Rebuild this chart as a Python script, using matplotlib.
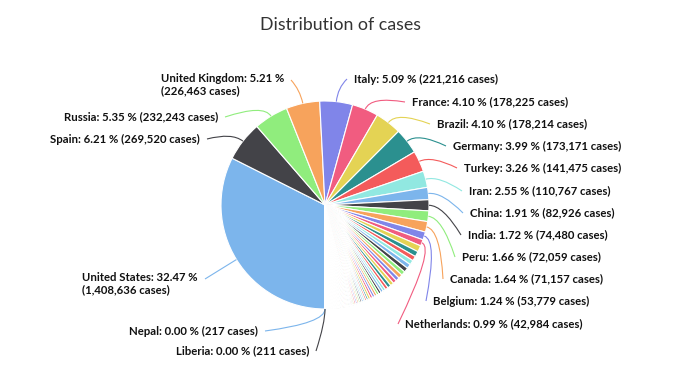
import numpy as np
import matplotlib
matplotlib.use("Agg")
import matplotlib.pyplot as plt
from matplotlib.path import Path
from matplotlib.patches import PathPatch

# cases per country, sorted as in the chart (largest first)
countries = [
    "United States", "Spain", "Russia", "United Kingdom", "Italy", "France",
    "Brazil", "Germany", "Turkey", "Iran", "China", "India", "Peru", "Canada",
    "Belgium", "Netherlands",
    "Saudi Arabia", "Mexico", "Pakistan", "Chile", "Switzerland", "Ecuador",
    "Portugal", "Sweden", "Singapore", "Belarus", "Qatar", "Ireland", "UAE",
    "Bangladesh", "Poland", "Israel", "Ukraine", "Japan", "Austria", "Romania",
    "Indonesia", "Colombia", "Philippines", "South Africa", "Dominican Republic",
    "South Korea", "Denmark", "Serbia", "Egypt", "Kuwait", "Panama", "Czechia",
    "Norway", "Australia", "Argentina", "Malaysia", "Morocco", "Algeria",
    "Finland", "Bahrain", "Moldova", "Kazakhstan", "Afghanistan", "Ghana",
    "Nigeria", "Oman", "Luxembourg", "Armenia", "Hungary", "Thailand", "Iraq",
    "Bolivia", "Greece", "Azerbaijan", "Cameroon", "Uzbekistan", "Guinea",
    "Honduras", "Croatia", "Bosnia and Herzegovina", "Senegal", "Bulgaria",
    "Ivory Coast", "Cuba", "Sudan", "Iceland", "Estonia", "North Macedonia",
    "Lithuania", "New Zealand", "Slovakia", "Slovenia", "Guatemala", "Mayotte",
    "Djibouti", "DR Congo", "Somalia", "Kyrgyzstan", "Hong Kong", "Tunisia",
    "El Salvador", "Latvia", "Sri Lanka", "Cyprus", "Lebanon", "Albania",
    "Gabon", "Kosovo", "Guinea-Bissau", "Maldives", "Niger", "Costa Rica",
    "Burkina Faso", "Andorra", "Mali", "Kenya", "Uruguay", "Tajikistan",
    "Paraguay", "Diamond Princess", "Georgia", "San Marino", "Jordan",
    "Equatorial Guinea", "Jamaica", "Tanzania", "Malta", "Zambia", "Reunion",
    "Taiwan", "Venezuela", "Sierra Leone", "Palestine", "Chad", "Benin",
    "Isle of Man", "Congo", "Mauritius", "Montenegro", "CAR", "Vietnam",
    "Rwanda", "Cabo Verde", "Ethiopia",
    "Nepal", "Liberia",
]
cases = [
    1408636, 269520, 232243, 226463, 221216, 178225,
    178214, 173171, 141475, 110767, 82926, 74480, 72059, 71157,
    53779, 42984,
    42925, 36324, 32036, 31681, 30380, 30298,
    28132, 27909, 25346, 24873, 24049, 23401, 20386,
    17822, 17204, 16529, 16425, 16079, 16007, 15778,
    15438, 12272, 11618, 11350, 11320,
    10962, 10667, 10496, 10431, 10277, 9268, 8269,
    8157, 6975, 6879, 6779, 6418, 6253,
    6003, 5816, 5745, 5571, 5226, 5127,
    4971, 4019, 3904, 3718, 3313, 3017, 2913,
    2831, 2760, 2693, 2689, 2612, 2473,
    2318, 2213, 2208, 2105, 2100,
    1857, 1830, 1818, 1802, 1746, 1740,
    1513, 1497, 1480, 1465, 1342, 1342,
    1284, 1242, 1089, 1082, 1047, 1032,
    998, 951, 915, 910, 886, 880,
    863, 862, 836, 835, 832, 830,
    773, 758, 758, 758, 733, 729,
    724, 712, 694, 656, 596,
    522, 511, 509, 505, 446, 443,
    440, 440, 387, 375, 372, 339,
    335, 333, 332, 324, 301, 288,
    286, 267, 263,
    217, 211,
]

# labelled slices and the percentages printed on the chart
labelled = ["United States", "Spain", "Russia", "United Kingdom", "Italy",
            "France", "Brazil", "Germany", "Turkey", "Iran", "China", "India",
            "Peru", "Canada", "Belgium", "Netherlands", "Nepal", "Liberia"]
label_pct = ["32.47", "6.21", "5.35", "5.21", "5.09", "4.10", "4.10", "3.99",
             "3.26", "2.55", "1.91", "1.72", "1.66", "1.64", "1.24", "0.99",
             "0.00", "0.00"]

palette = ['#7cb5ec', '#434348', '#90ed7d', '#f7a35c', '#8085e9',
           '#f15c80', '#e4d354', '#2b908f', '#f45b5b', '#91e8e1']

# label anchors in pixels: (x, y, side, two_lines)
label_layout = {
    "United States": (198, 279, "l", True),
    "Spain": (200, 139, "l", False),
    "Russia": (218, 117, "l", False),
    "United Kingdom": (284, 80, "l", True),
    "Italy": (354, 79, "r", False),
    "France": (412, 102, "r", False),
    "Brazil": (437, 124, "r", False),
    "Germany": (453, 146, "r", False),
    "Turkey": (464, 168, "r", False),
    "Iran": (469, 191, "r", False),
    "China": (470, 213, "r", False),
    "India": (468, 235, "r", False),
    "Peru": (462, 257, "r", False),
    "Canada": (450, 279, "r", False),
    "Belgium": (433, 301, "r", False),
    "Netherlands": (405, 324, "r", False),
    "Nepal": (258, 331, "l", False),
    "Liberia": (309, 351, "l", False),
}

W, H = 680, 365
cx, cy, r = 325, 205, 104

fig = plt.figure(figsize=(W / 100, H / 100), dpi=100)
ax = fig.add_axes([0, 0, 1, 1])

colors = [palette[i % len(palette)] for i in range(len(cases))]
wedges, _ = ax.pie(cases, colors=colors, startangle=90, counterclock=True,
                   radius=r, center=(cx, cy), frame=True,
                   wedgeprops=dict(edgecolor='white', linewidth=0.8))

ax.set_xlim(0, W)
ax.set_ylim(H, 0)
ax.set_aspect('equal')
ax.axis('off')

ax.text(341, 25, "Distribution of cases", ha='center', va='center',
        fontsize=12.8, color='#333333', family='Lato')

font = dict(family='Lato', fontsize=8.2, fontweight='bold', color='#111111')

for name, pct in zip(labelled, label_pct):
    i = countries.index(name)
    w = wedges[i]
    th = np.deg2rad((w.theta1 + w.theta2) / 2)
    d = np.array([np.cos(th), np.sin(th)])
    x, y, side, two = label_layout[name]
    n = f"{cases[i]:,}"
    if two:
        txt = f"{name}: {pct} %\n({n} cases)"
    else:
        txt = f"{name}: {pct} % ({n} cases)"

    if side == "r":
        ax.text(x, y, txt, ha='left', va='center', **font)
        end = (x - 7, y)
    else:
        if two:
            ax.text(x, y - 7, txt, ha='right', va='top', multialignment='left',
                    linespacing=1.1, **font)
        else:
            ax.text(x, y, txt, ha='right', va='center', **font)
        end = (x + 7, y)

    p0 = np.array([cx, cy]) + r * d
    c = np.array([cx, cy]) + (r + 14) * d
    path = Path([tuple(p0), tuple(c), end],
                [Path.MOVETO, Path.CURVE3, Path.CURVE3])
    ax.add_patch(PathPatch(path, fill=False, edgecolor=colors[i], lw=0.8))

fig.savefig("out.png", dpi=100, facecolor='white')
